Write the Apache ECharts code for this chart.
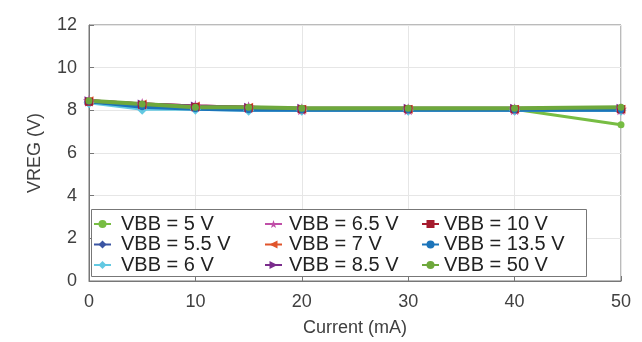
<!DOCTYPE html>
<html>
<head>
<meta charset="utf-8">
<script src="https://cdn.jsdelivr.net/npm/echarts@6/dist/echarts.min.js"></script>
<style>
  html, body { margin: 0; padding: 0; background: #fff; }
  #chart { width: 642px; height: 342px; }
</style>
</head>
<body>
<div id="chart"></div>
<script>
// current steps (mA)
const currents = [0, 5, 10, 15, 20, 30, 40, 50];

// VREG readings per VBB
const vbbNames = ['VBB = 5 V', 'VBB = 5.5 V', 'VBB = 6 V', 'VBB = 6.5 V', 'VBB = 7 V',
                  'VBB = 8.5 V', 'VBB = 10 V', 'VBB = 13.5 V', 'VBB = 50 V'];
const vreg5   = [8.45, 8.2, 8.1, 8.05, 8.05, 8.05, 8.05, 7.32];
const vreg5_5 = [8.4, 8.2, 8.1, 8.05, 8.0, 8.0, 8.0, 8.0];
const vreg6   = [8.35, 8.05, 8.05, 8.0, 8.0, 8.0, 8.0, 8.0];
const vreg6_5 = [8.45, 8.3, 8.2, 8.15, 8.05, 8.05, 8.05, 8.05];
const vreg7   = [8.45, 8.3, 8.2, 8.15, 8.05, 8.05, 8.05, 8.05];
const vreg8_5 = [8.45, 8.3, 8.2, 8.15, 8.1, 8.1, 8.1, 8.1];
const vreg10  = [8.4, 8.25, 8.15, 8.1, 8.05, 8.05, 8.05, 8.05];
const vreg13_5 = [8.4, 8.15, 8.05, 8.0, 8.0, 8.0, 8.0, 8.0];
const vreg50  = [8.45, 8.3, 8.15, 8.15, 8.1, 8.1, 8.1, 8.15];

const allData = [vreg5, vreg5_5, vreg6, vreg6_5, vreg7, vreg8_5, vreg10, vreg13_5, vreg50];

const STAR = 'path://M50 0 L61.76 33.82 L97.55 34.55 L69.02 56.18 L79.39 90.45 L50 70 L20.61 90.45 L30.98 56.18 L2.45 34.55 L38.24 33.82 Z';
const colors = ['#77bd43', '#3b55a3', '#63c9e2', '#c04fa8', '#e0542b', '#7a2c8c', '#a51b2d', '#1b74ba', '#6ea83c'];
const symbols = ['circle', 'diamond', 'diamond', STAR, 'triangle', 'triangle', 'rect', 'circle', 'circle'];
const symbolSizes = [7, 10, 11, 12, 9, 9, 8, 6, 7];
const symbolRotates = [0, 0, 0, 0, 90, -90, 0, 0, 0];

const textColor = '#404040';
const FONT = 'Liberation Sans, Arial';

const chart = echarts.init(document.getElementById('chart'));

const series = vbbNames.map((name, i) => ({
    name: name,
    type: 'line',
    data: currents.map((c, j) => [c, allData[i][j]]),
    symbol: symbols[i],
    symbolSize: symbolSizes[i],
    symbolRotate: symbolRotates[i],
    lineStyle: { color: colors[i], width: i === 8 ? 4 : 3 },
    itemStyle: { color: colors[i] },
    z: 2
}));

function legendCol(names, left, padLeft) {
    return {
        orient: 'vertical',
        left: left,
        top: 214,
        padding: 0,
        z: 10,
        data: names,
        itemWidth: 17,
        itemHeight: 10,
        itemGap: 0.5,
        textStyle: { fontSize: 20, color: '#222', fontFamily: FONT, lineHeight: 20, padding: [0, 0, 0, padLeft] },
        inactiveColor: '#ccc'
    };
}

chart.setOption({
    animation: false,
    backgroundColor: '#fff',
    grid: {
        left: 89, right: 21, top: 25, bottom: 57,
        show: true, borderColor: '#777', borderWidth: 1
    },
    xAxis: {
        type: 'value',
        min: 0, max: 50, interval: 10,
        name: 'Current (mA)',
        nameLocation: 'middle',
        nameGap: 38,
        nameTextStyle: { fontSize: 18, color: textColor, fontFamily: FONT },
        axisLine: { show: true, lineStyle: { color: '#777' } },
        axisTick: { show: true, inside: true, length: 5, lineStyle: { color: '#777' } },
        axisLabel: { fontSize: 18, color: textColor, margin: 12, fontFamily: FONT },
        splitLine: { show: true, lineStyle: { color: '#e6e6e6' } }
    },
    yAxis: {
        type: 'value',
        min: 0, max: 12, interval: 2,
        name: 'VREG (V)',
        nameLocation: 'middle',
        nameGap: 45,
        nameTextStyle: { fontSize: 18, color: textColor, fontFamily: FONT },
        axisLine: { show: true, lineStyle: { color: '#777' } },
        axisTick: { show: true, inside: true, length: 5, lineStyle: { color: '#777' } },
        axisLabel: { fontSize: 18, color: textColor, margin: 12, fontFamily: FONT },
        splitLine: { show: true, lineStyle: { color: '#e6e6e6' } }
    },
    legend: [
        legendCol(vbbNames.slice(0, 3), 93, 5),
        legendCol(vbbNames.slice(3, 6), 264, 2),
        legendCol(vbbNames.slice(6, 9), 421, 0)
    ],
    graphic: [{
        type: 'rect',
        left: 91, top: 209,
        shape: { width: 495, height: 67 },
        style: { fill: '#fff', stroke: '#777', lineWidth: 1 },
        z: 3
    }],
    series: series
});

window.addEventListener('resize', () => chart.resize());
</script>
</body>
</html>
